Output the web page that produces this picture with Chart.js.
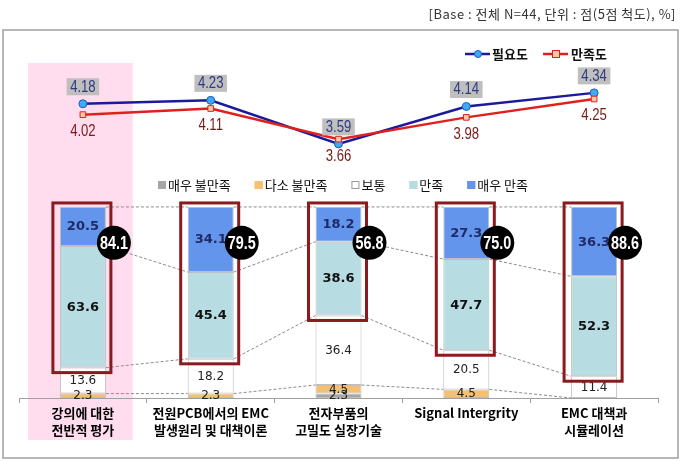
<!DOCTYPE html>
<html><head><meta charset="utf-8">
<script src="https://cdn.jsdelivr.net/npm/chart.js@4.4.1/dist/chart.umd.min.js"></script>
<style>html,body{margin:0;padding:0;background:#fff;}canvas{display:block;}</style>
</head><body>
<canvas id="c" width="687" height="461"></canvas>
<script>
// ---- data ----
const categories = [["강의에 대한","전반적 평가"],["전원PCB에서의 EMC","발생원리 및 대책이론"],["전자부품의","고밀도 실장기술"],["Signal Intergrity"],["EMC 대책과","시뮬레이션"]];
const seriesNames = ["매우 불만족","다소 불만족","보통","만족","매우 만족"];
const veryDissatisfied = [0,0,2.3,0,0];
const somewhatDissatisfied = [2.3,2.3,4.5,4.5,0];
const neutral = [13.6,18.2,36.4,20.5,11.4];
const satisfied = [63.6,45.4,38.6,47.7,52.3];
const verySatisfied = [20.5,34.1,18.2,27.3,36.3];
const satisfiedTotal = [84.1,79.5,56.8,75.0,88.6];
const lineNames = ["필요도","만족도"];
const needScore = [4.18,4.23,3.59,4.14,4.34];
const satisfactionScore = [4.02,4.11,3.66,3.98,4.25];
const headerText = "[Base : 전체 N=44, 단위 : 점(5점 척도), %]";

const KR = "'Noto Sans CJK KR','Noto Sans',sans-serif";
const NUM = "'DejaVu Sans',sans-serif";
const ARIAL = "'Liberation Sans',Arial,sans-serif";
const barColors = ['#A6A6A6','#F6C06E','#FFFFFF','#B7DDE2','#6495ED'];
const barValues = [veryDissatisfied, somewhatDissatisfied, neutral, satisfied, verySatisfied];

const barDatasets = barValues.map((vals,k)=>({
  label: seriesNames[k], data: vals, yAxisID:'yBar', stack:'s',
  backgroundColor: barColors[k], borderColor:'#BFBFBF', borderWidth:1, borderSkipped:false,
  barPercentage:0.36, categoryPercentage:1, order:2
}));

function narrowText(c, text, x, y, sx){
  c.save(); c.translate(x, y); c.scale(sx, 1); c.fillText(text, 0, 0); c.restore();
}

const bgPlugin = {
  id:'bg',
  beforeDraw(chart){
    const c = chart.ctx, x = chart.scales.x, a = chart.chartArea;
    c.save();
    c.fillStyle='#fff'; c.fillRect(0,0,chart.width,chart.height);
    c.strokeStyle='#A0A0A0'; c.lineWidth=1.5; c.strokeRect(3,30,675,428);
    const w = (a.right-a.left)/categories.length;
    const cx = x.getPixelForValue(0);
    c.fillStyle='#FFDDEE';
    c.fillRect(cx-w*0.43, a.top+15, w*0.82, a.bottom-a.top+27);
    c.fillStyle='#333'; c.font="13px "+KR; c.textAlign='right'; c.textBaseline='middle';
    try{ c.letterSpacing='0.5px'; }catch(e){}
    c.fillText(headerText, 676, 14);
    try{ c.letterSpacing='0px'; }catch(e){}
    c.restore();
  }
};

function segCenters(i){
  let acc=0; const out=[];
  for(let k=0;k<barValues.length;k++){ const v=barValues[k][i]; out.push([acc, acc+v]); acc+=v; }
  return out;
}

const overlayPlugin = {
  id:'overlay',
  afterDatasetsDraw(chart){
    const c = chart.ctx, yB = chart.scales.yBar;
    const meta = chart.getDatasetMeta(0);
    const n = categories.length;
    const bx = i => { const el = meta.data[i]; return [el.x-el.width/2, el.x+el.width/2]; };
    const levels = [];
    for(let i=0;i<n;i++){
      const s = segCenters(i);
      levels.push([s[1][1], s[2][1], s[3][1], s[4][1]]);
    }
    c.save();
    c.strokeStyle='#8C8C8C'; c.lineWidth=1; c.setLineDash([3,2]);
    for(let i=0;i<n-1;i++){
      for(let k=0;k<4;k++){
        c.beginPath();
        c.moveTo(bx(i)[1], yB.getPixelForValue(levels[i][k]));
        c.lineTo(bx(i+1)[0], yB.getPixelForValue(levels[i+1][k]));
        c.stroke();
      }
    }
    c.setLineDash([]);
    c.textAlign='center'; c.textBaseline='middle';
    for(let i=0;i<n;i++){
      const s = segCenters(i); const cx = meta.data[i].x;
      for(let k=0;k<barValues.length;k++){
        const v = barValues[k][i]; if(!v) continue;
        const y = yB.getPixelForValue((s[k][0]+s[k][1])/2);
        if(k===4){ c.font="bold 13px "+NUM; c.fillStyle='#1F2A66'; }
        else if(k===3){ c.font="bold 13px "+NUM; c.fillStyle='#111'; }
        else { c.font="12px "+NUM; c.fillStyle='#222'; }
        c.fillText(v.toFixed(1), cx, y+0.5);
      }
    }
    c.strokeStyle='#8B1A1E'; c.lineWidth=3;
    for(let i=0;i<n;i++){
      const [l,r] = bx(i);
      const top = yB.getPixelForValue(levels[i][3])-4;
      const bot = yB.getPixelForValue(levels[i][1])+5;
      c.strokeRect(l-7, top, (r+5)-(l-7), bot-top);
    }
    for(let i=0;i<n;i++){
      const [l,r] = bx(i);
      const cy = yB.getPixelForValue(81.2);
      c.beginPath(); c.arc(r+8, cy, 17, 0, Math.PI*2); c.fillStyle='#000'; c.fill();
      c.fillStyle='#fff'; c.font="bold 18px "+ARIAL;
      narrowText(c, satisfiedTotal[i].toFixed(1), r+8, cy+1, 0.8);
    }
    const m1 = chart.getDatasetMeta(5), m2 = chart.getDatasetMeta(6);
    c.font="16px "+ARIAL;
    for(let i=0;i<n;i++){
      const p1 = m1.data[i], p2 = m2.data[i];
      const t1 = needScore[i].toFixed(2);
      const w1 = c.measureText(t1).width*0.82+7;
      const y1 = p1.y-17;
      c.fillStyle='#BFBFBF'; c.fillRect(p1.x-w1/2, y1-8.5, w1, 17);
      c.fillStyle='#2F3A80'; narrowText(c, t1, p1.x, y1+0.5, 0.82);
      const t2 = satisfactionScore[i].toFixed(2);
      const y2 = Math.max(p2.y+17, p1.y+13);
      c.fillStyle='#7A1818'; narrowText(c, t2, p2.x, y2, 0.82);
    }
    c.restore();
  },
  afterDraw(chart){
    const c = chart.ctx;
    c.save();
    c.textBaseline='middle'; c.textAlign='left';
    const ly = 54;
    c.lineWidth=2.5;
    c.strokeStyle='#1A1A9A'; c.beginPath(); c.moveTo(465,ly); c.lineTo(490,ly); c.stroke();
    c.beginPath(); c.arc(478,ly,3.5,0,Math.PI*2); c.fillStyle='#3FA9F5'; c.fill(); c.lineWidth=1; c.strokeStyle='#1A5FB4'; c.stroke();
    c.font="bold 13px "+KR; c.fillStyle='#111'; c.fillText(lineNames[0], 492, ly);
    c.lineWidth=2.5; c.strokeStyle='#E0201C'; c.beginPath(); c.moveTo(543,ly); c.lineTo(568,ly); c.stroke();
    c.fillStyle='#FBCBA8'; c.fillRect(552.5,ly-3.5,7,7); c.lineWidth=1; c.strokeStyle='#E0201C'; c.strokeRect(552.5,ly-3.5,7,7);
    c.fillStyle='#111'; c.fillText(lineNames[1], 571, ly);
    const by = 185; let x = 158;
    c.font="13px "+KR;
    for(let k=0;k<seriesNames.length;k++){
      c.fillStyle=barColors[k]; c.fillRect(x, by-4, 8, 8);
      c.strokeStyle = k===2 ? '#999' : barColors[k]; c.lineWidth=1; c.strokeRect(x+0.5, by-3.5, 7, 7);
      c.fillStyle='#111'; c.fillText(seriesNames[k], x+10, by);
      x += 10 + c.measureText(seriesNames[k]).width + 24;
    }
    c.restore();
  }
};

new Chart(document.getElementById('c'), {
  type:'bar',
  data:{ labels: categories, datasets: [
    ...barDatasets,
    { type:'line', label:lineNames[0], data:needScore, yAxisID:'yLine', order:1,
      borderColor:'#1A1A9A', borderWidth:2.5, pointStyle:'circle', pointRadius:4,
      pointBackgroundColor:'#3FA9F5', pointBorderColor:'#1A5FB4', pointBorderWidth:1, tension:0 },
    { type:'line', label:lineNames[1], data:satisfactionScore, yAxisID:'yLine', order:0,
      borderColor:'#E0201C', borderWidth:2.5, pointStyle:'rect', pointRadius:4,
      pointBackgroundColor:'#FBCBA8', pointBorderColor:'#E0201C', pointBorderWidth:1, tension:0 }
  ]},
  options:{
    responsive:false, animation:false, devicePixelRatio:1,
    layout:{ padding:{ left:19, right:29, top:48, bottom:0 } },
    plugins:{ legend:{display:false}, tooltip:{enabled:false} },
    scales:{
      x:{ stacked:true, offset:true,
        grid:{ display:true, drawOnChartArea:false, tickLength:5, color:'#A0A0A0', offset:true },
        border:{ color:'#A0A0A0', width:1 },
        ticks:{ font:{ family:KR, size:13, weight:'bold', lineHeight:1.3 }, color:'#000', padding:2, maxRotation:0, autoSkip:false },
        afterFit(s){ s.height = 63; } },
      yBar:{ stacked:true, display:false, min:0, max:183.2 },
      yLine:{ display:false, min:-0.147, max:5 }
    }
  },
  plugins:[bgPlugin, overlayPlugin]
});
</script>
</body></html>
